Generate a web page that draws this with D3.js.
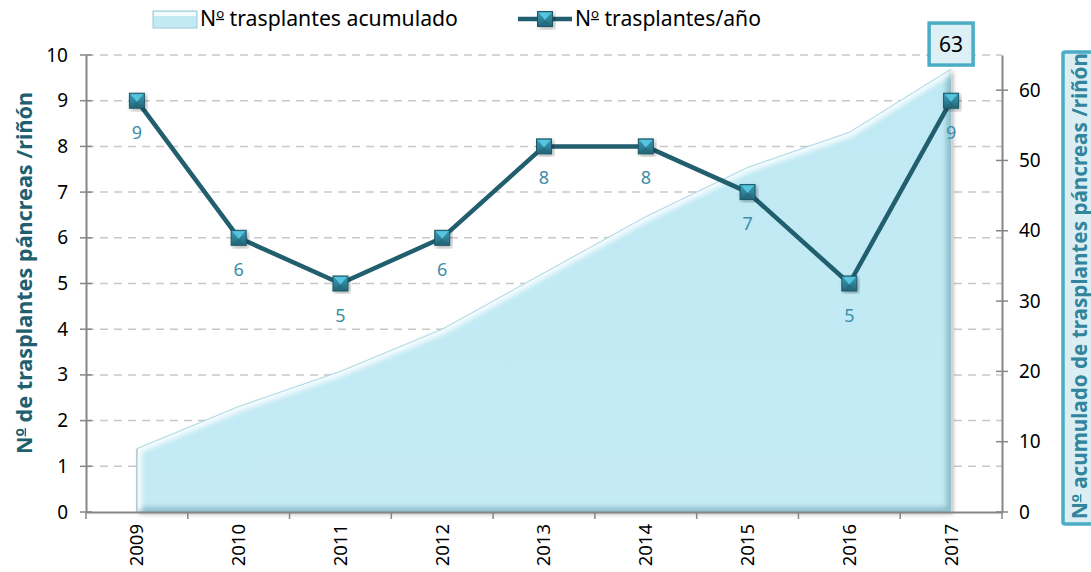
<!DOCTYPE html>
<html><head><meta charset="utf-8">
<script src="https://cdn.jsdelivr.net/npm/d3@7"></script>
<style>
body{margin:0;background:#fff;}
svg{display:block;font-family:"Noto Sans",sans-serif;}
</style></head>
<body><svg id="c" width="1091" height="572"></svg>
<script>
const years = ["2009","2010","2011","2012","2013","2014","2015","2016","2017"];
const perYear = [9,6,5,6,8,8,7,5,9];
const cumulative = [9,15,20,26,34,42,49,54,63];
const leftTicks = [0,1,2,3,4,5,6,7,8,9,10];
const rightTicks = [0,10,20,30,40,50,60];
const legendLabels = ["Nº trasplantes acumulado","Nº trasplantes/año"];
const leftTitle = "Nº de trasplantes páncreas /riñón";
const rightTitle = "Nº acumulado de trasplantes páncreas /riñón";

const FONT = "'Noto Sans',sans-serif";
const svg = d3.select("#c");
const L = 86, R = 1002, T = 55, B = 512;
const x = d3.scaleBand().domain(years).range([L, R]).padding(0);
const bw = x.bandwidth();
const cx = d => x(d) + bw/2;
const yL = d3.scaleLinear().domain([0,10]).range([B, T]);
const yR = d3.scaleLinear().domain([0,65]).range([B, T]);

function setText(sel, str){
  const parts = str.split("º");
  parts.forEach((p,i)=>{
    if (i>0) sel.append("tspan").attr("font-size","0.62em").attr("dy","-0.62em")
      .attr("text-decoration","underline").text("o");
    if (p) sel.append("tspan").attr("dy", i>0 ? "0.385em" : null).text(p);
  });
  return sel;
}
function fit(sel, target){
  const n = sel.node();
  const fs = +sel.attr("font-size");
  const w = n.getComputedTextLength();
  if (w > 0) sel.attr("font-size", (fs*target/w).toFixed(2));
  return sel;
}

const defs = svg.append("defs");
const ag = defs.append("linearGradient").attr("id","ag").attr("x1",0).attr("y1",0).attr("x2",0).attr("y2",1);
ag.append("stop").attr("offset","0%").attr("stop-color","#bfe9f4");
ag.append("stop").attr("offset","100%").attr("stop-color","#c4ebf5");
const mg = defs.append("linearGradient").attr("id","mg").attr("x1",0).attr("y1",0).attr("x2",0).attr("y2",1);
mg.append("stop").attr("offset","0%").attr("stop-color","#3a9cb6");
mg.append("stop").attr("offset","100%").attr("stop-color","#24687b");
const sh = defs.append("filter").attr("id","sh").attr("x","-20%").attr("y","-20%").attr("width","140%").attr("height","140%");
sh.append("feDropShadow").attr("dx",2).attr("dy",2).attr("stdDeviation",2).attr("flood-color","#000").attr("flood-opacity",0.3);
const blur = defs.append("filter").attr("id","bl");
blur.append("feGaussianBlur").attr("stdDeviation",2.5);

svg.append("g").selectAll("line").data(leftTicks.filter(v=>v>0)).join("line")
  .attr("x1",L).attr("x2",R).attr("y1",d=>yL(d)).attr("y2",d=>yL(d))
  .attr("stroke","#c8c8c8").attr("stroke-width",1.5).attr("stroke-dasharray","8,6");

const area = d3.area().x((d,i)=>cx(years[i])).y0(B).y1(d=>yR(d));
const areaPath = area(cumulative);
defs.append("clipPath").attr("id","ac").append("path").attr("d",areaPath);
svg.append("path").attr("d",areaPath).attr("fill","url(#ag)").attr("filter","url(#sh)");
const ga = svg.append("g").attr("clip-path","url(#ac)");
ga.append("path").attr("d", d3.line()([[cx(years[0]),B],[cx(years[8]),B],[cx(years[8]),yR(cumulative[8])]]))
  .attr("fill","none").attr("stroke","#8fbfcc").attr("stroke-width",10).attr("filter","url(#bl)");
const topLine = d3.line().x((d,i)=>cx(years[i])).y(d=>yR(d));
ga.append("path").attr("d","M"+cx(years[0])+","+B+"L"+topLine(cumulative).slice(1))
  .attr("fill","none").attr("stroke","#ffffff").attr("stroke-width",10).attr("opacity",0.85).attr("filter","url(#bl)");
svg.append("path").attr("d",topLine(cumulative)).attr("fill","none").attr("stroke","#a8d8e5").attr("stroke-width",1);
svg.append("line").attr("x1",cx(years[0])).attr("x2",cx(years[0])).attr("y1",yR(cumulative[0])).attr("y2",B).attr("stroke","#b0c8cf").attr("stroke-width",1.5);

const axC = "#868686";
const gL = svg.append("g").attr("transform",`translate(${L},0)`)
  .call(d3.axisLeft(yL).tickValues(leftTicks).tickSize(0).tickPadding(18));
const gR = svg.append("g").attr("transform",`translate(${R},0)`)
  .call(d3.axisRight(yR).tickValues(rightTicks).tickSize(0).tickPadding(17));
const gB = svg.append("g").attr("transform",`translate(0,${B})`)
  .call(d3.axisBottom(x).tickSize(0));
[gL,gR,gB].forEach(g=>{g.select(".domain").attr("stroke",axC).attr("stroke-width",2);});
gL.selectAll("text").attr("font-size",19).attr("fill","#000").attr("font-family",FONT);
gR.selectAll("text").attr("font-size",19).attr("fill","#000").attr("font-family",FONT);
gB.selectAll("text").attr("font-size",18.5).attr("fill","#000").attr("font-family",FONT)
  .attr("transform","rotate(-90)").attr("text-anchor","end").attr("x",-12).attr("y",0).attr("dy","0.35em");
svg.append("g").selectAll("line").data(leftTicks).join("line")
  .attr("x1",L-6).attr("x2",L+6).attr("y1",d=>yL(d)).attr("y2",d=>yL(d)).attr("stroke",axC).attr("stroke-width",1.5);
svg.append("g").selectAll("line").data(rightTicks).join("line")
  .attr("x1",R-6).attr("x2",R+6).attr("y1",d=>yR(d)).attr("y2",d=>yR(d)).attr("stroke",axC).attr("stroke-width",1.5);
svg.append("g").selectAll("line").data(years.concat(["end"])).join("line")
  .attr("x1",(d,i)=>L+i*bw).attr("x2",(d,i)=>L+i*bw).attr("y1",B).attr("y2",B+7).attr("stroke",axC).attr("stroke-width",1.5);

const line = d3.line().x((d,i)=>cx(years[i])).y(d=>yL(d));
svg.append("path").attr("d",line(perYear)).attr("fill","none").attr("stroke","#215e6e").attr("stroke-width",4.5).attr("stroke-linejoin","round");

function marker(g, px, py, s){
  const h = s/2;
  g.append("rect").attr("x",px-h).attr("y",py-h).attr("width",s).attr("height",s)
    .attr("fill","url(#mg)").attr("stroke","#1d5564").attr("stroke-width",1).attr("filter","url(#sh)");
  g.append("path").attr("d",`M${px-h+1},${py-h+1}L${px+h-1},${py-h+1}L${px},${py+1}Z`).attr("fill","#55c4df");
  g.append("path").attr("d",`M${px-h+1},${py+h-1}L${px+h-1},${py+h-1}L${px},${py+1}Z`).attr("fill","#23677a").attr("opacity",0.6);
}
const gm = svg.append("g");
perYear.forEach((v,i)=>marker(gm, cx(years[i]), yL(v), 15));

svg.append("g").selectAll("text").data(perYear).join("text")
  .attr("x",(d,i)=>cx(years[i])).attr("y",d=>yL(d)+38)
  .attr("text-anchor","middle").attr("font-size",18).attr("fill","#3a8ea8").text(d=>d);

const lx = cx(years[8]), ly = yR(cumulative[8]);
svg.append("rect").attr("x",lx-22).attr("y",ly-46).attr("width",44).attr("height",42)
  .attr("fill","#dcf0f6").attr("stroke","#4bacc6").attr("stroke-width",3.5);
svg.append("text").attr("x",lx).attr("y",ly-17).attr("text-anchor","middle").attr("font-size",21).attr("fill","#000")
  .text(cumulative[8]);

const lg = svg.append("g");
lg.append("rect").attr("x",153).attr("y",11).attr("width",44).attr("height",17).attr("fill","url(#ag)").attr("stroke","#9cc9d6").attr("stroke-width",1);
lg.append("rect").attr("x",154).attr("y",12).attr("width",42).attr("height",4).attr("fill","#ffffff").attr("opacity",0.8);
fit(setText(lg.append("text").attr("x",200).attr("y",26).attr("font-size",19).attr("fill","#000"), legendLabels[0]), 258);
lg.append("line").attr("x1",518).attr("x2",572).attr("y1",19).attr("y2",19).attr("stroke","#215e6e").attr("stroke-width",4.5);
marker(lg, 545, 19, 15);
fit(setText(lg.append("text").attr("x",575).attr("y",26).attr("font-size",19).attr("fill","#000"), legendLabels[1]), 186);

fit(setText(svg.append("text").attr("transform",`translate(32,273) rotate(-90)`)
  .attr("text-anchor","middle").attr("font-size",20).attr("font-weight","bold").attr("fill","#215e6e"), leftTitle), 362);
svg.append("rect").attr("x",1063).attr("y",52).attr("width",40).attr("height",472).attr("rx",2)
  .attr("fill","#dbeef4").attr("stroke","#4bacc6").attr("stroke-width",3.5);
fit(setText(svg.append("text").attr("transform",`translate(1087,519) rotate(-90)`)
  .attr("text-anchor","start").attr("font-size",20).attr("font-weight","bold").attr("fill","#31859c"), rightTitle), 466);
</script></body></html>
